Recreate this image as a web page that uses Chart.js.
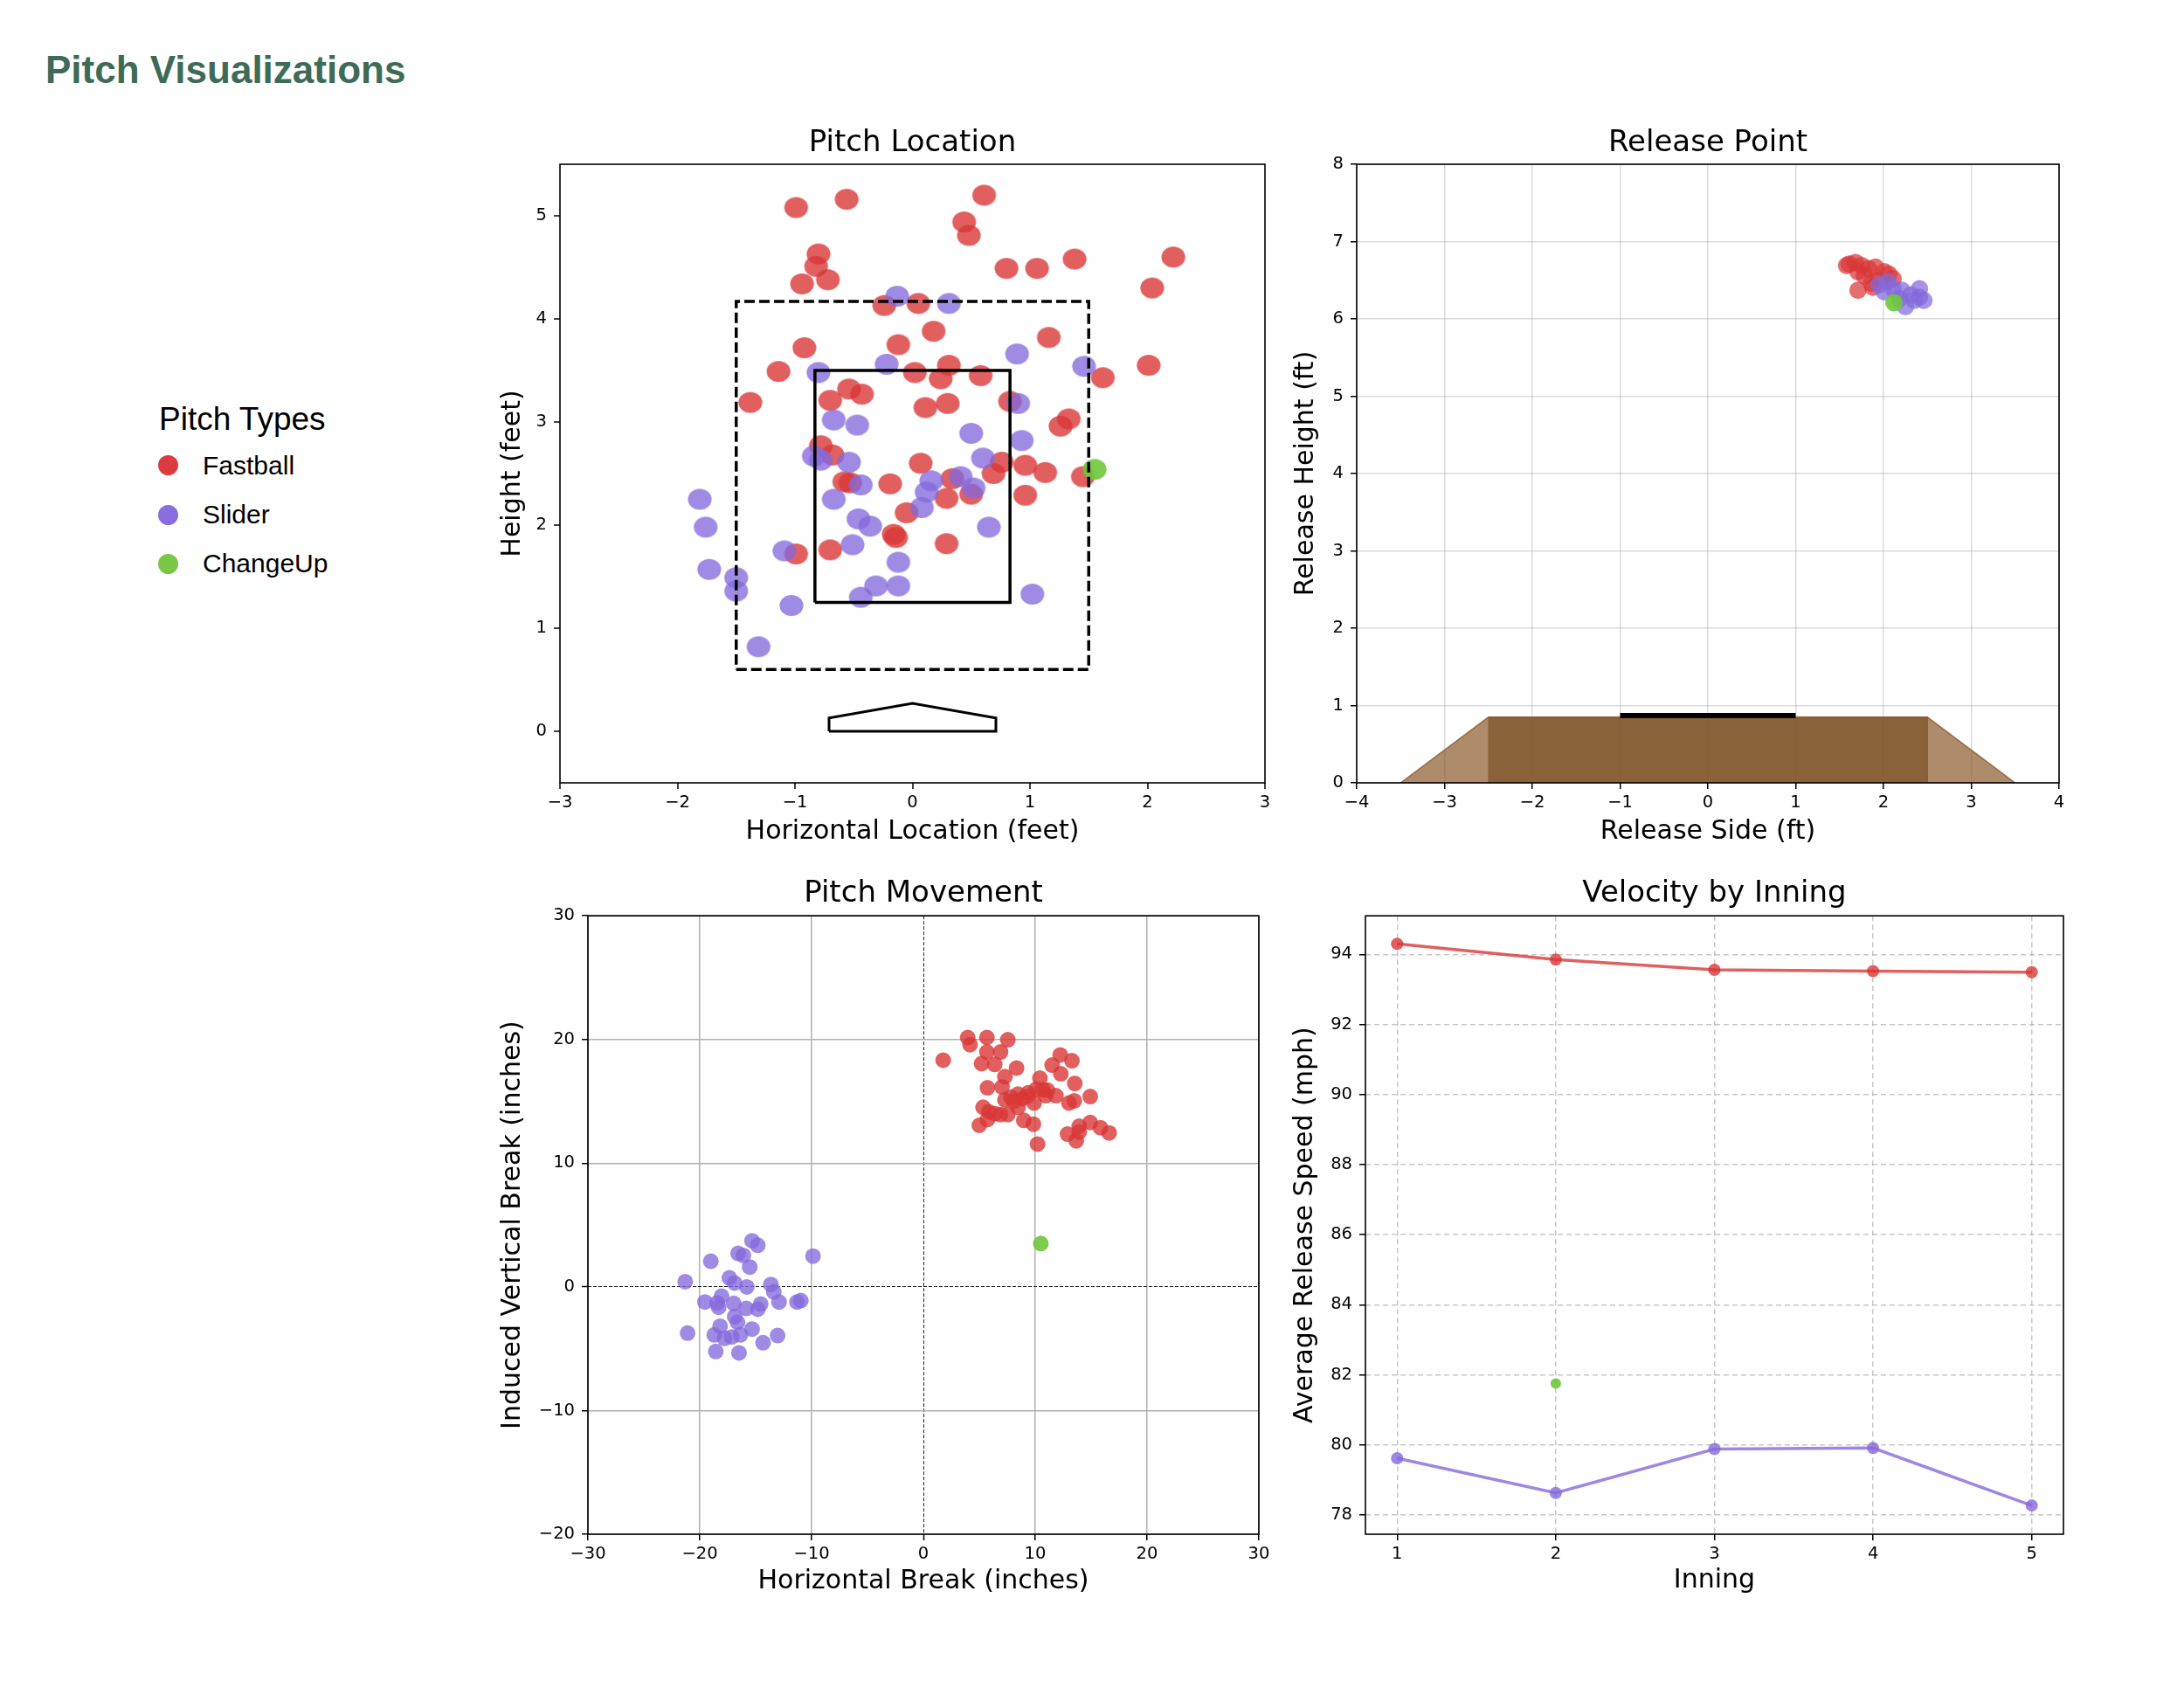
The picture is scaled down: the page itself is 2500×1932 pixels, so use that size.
<!DOCTYPE html>
<html>
<head>
<meta charset="utf-8">
<script src="https://cdn.jsdelivr.net/npm/chart.js@4.4.1/dist/chart.umd.min.js"></script>
<style>
  body { margin: 0; background: #fff; width: 2500px; height: 1932px; position: relative; overflow: hidden; }
  canvas { position: absolute; }
  .txt { position: absolute; font-family: "Liberation Sans", Arial, sans-serif; line-height: 1; white-space: nowrap; }
  #mainTitle { left: 52px; top: 58px; font-size: 44px; font-weight: bold; color: #3d6b57; }
  #legendTitle { left: 182px; top: 461px; font-size: 37px; color: #000; }
  .item { left: 232px; font-size: 30px; color: #000; }
  .dot { position: absolute; width: 23px; height: 23px; border-radius: 50%; left: 181px; }
</style>
</head>
<body>
<div id="mainTitle" class="txt">Pitch Visualizations</div>
<div id="legendTitle" class="txt">Pitch Types</div>
<div class="dot" style="top:521px;background:#dc3c40"></div>
<div class="txt item" style="top:518px">Fastball</div>
<div class="dot" style="top:578px;background:#8a6ee0"></div>
<div class="txt item" style="top:574px">Slider</div>
<div class="dot" style="top:634px;background:#78c846"></div>
<div class="txt item" style="top:630px">ChangeUp</div>

<canvas id="locChart" width="950" height="880" style="left:520px;top:120px"></canvas>
<canvas id="relChart" width="940" height="880" style="left:1440px;top:120px"></canvas>
<canvas id="mvChart" width="925" height="880" style="left:540px;top:980px"></canvas>
<canvas id="veloChart" width="950" height="880" style="left:1440px;top:980px"></canvas>

<script>
// pitch location (feet)
const locFbX = [-0.99,-0.56,0.61,0.44,0.48,-0.80,-0.82,-0.94,-0.72,0.80,1.06,1.38,2.22,2.04,-0.24,0.05,0.18,-0.12,-0.92,1.16,-1.14,-1.38,0.02,0.31,0.24,0.58,1.62,2.01,-0.54,-0.43,-0.70,0.11,0.30,0.83,1.33,1.26,-0.78,-0.68,0.07,0.76,0.96,0.69,1.13,1.45,-0.58,-0.53,-0.19,0.34,0.50,0.29,0.96,-0.05,-0.16,-0.14,-0.70,-0.99,0.29];
const locFbY = [5.08,5.16,5.20,4.94,4.81,4.63,4.51,4.34,4.38,4.49,4.49,4.58,4.60,4.30,4.13,4.15,3.88,3.75,3.72,3.82,3.49,3.19,3.48,3.55,3.42,3.45,3.43,3.55,3.32,3.27,3.21,3.14,3.18,3.20,3.03,2.96,2.77,2.68,2.60,2.61,2.58,2.50,2.51,2.47,2.42,2.41,2.40,2.45,2.30,2.26,2.29,2.12,1.91,1.88,1.76,1.72,1.82];
const locSlX = [-0.13,0.31,-0.22,-0.80,0.89,1.46,0.90,-0.67,-0.47,0.50,0.93,-0.84,-0.78,-0.54,0.60,-0.44,0.16,0.12,0.41,0.52,-0.67,0.08,-0.46,-0.36,0.65,-1.81,-1.76,-1.73,-1.50,-1.50,-1.09,-0.51,-0.12,-0.31,-0.12,-0.44,-1.03,1.02,-1.31];
const locSlY = [4.22,4.15,3.56,3.48,3.66,3.54,3.18,3.02,2.97,2.89,2.82,2.67,2.63,2.61,2.65,2.39,2.43,2.32,2.47,2.36,2.25,2.17,2.06,1.99,1.98,2.25,1.98,1.57,1.49,1.36,1.75,1.81,1.64,1.41,1.41,1.30,1.22,1.33,0.82];
const locChX = [1.55];
const locChY = [2.54];

// strike zone, shadow zone and plate outline
const zoneX = [-0.83, 0.83];
const zoneY = [1.25, 3.5];
const shadowX = [-1.5, 1.5];
const shadowY = [0.6, 4.17];
const plateX = [-0.71, 0.71, 0.71, 0, -0.71, -0.71];
const plateY = [0, 0, 0.13, 0.27, 0.13, 0];

// release point (ft)
const relFbX = [1.58,1.61,1.68,1.75,1.83,1.91,1.71,1.78,1.71,1.86,1.95,2.06,2.11,2.01,1.88];
const relFbY = [6.69,6.71,6.73,6.69,6.65,6.67,6.61,6.56,6.37,6.46,6.50,6.58,6.52,6.61,6.41];
const relSlX = [1.95,2.05,2.11,2.21,2.31,2.41,2.46,2.25,2.35,2.18,2.01,2.41];
const relSlY = [6.44,6.48,6.39,6.37,6.31,6.39,6.24,6.16,6.24,6.26,6.35,6.28];
const relChX = [2.12];
const relChY = [6.21];

// mound and rubber
const moundSlopeX = [-3.5, -2.5, 2.5, 3.5];
const moundSlopeY = [0, 0.85, 0.85, 0];
const moundTopX = [-2.5, -2.5, 2.5, 2.5];
const moundTopY = [0, 0.85, 0.85, 0];
const rubberX = [-1, 1];
const rubberY = [0.87, 0.87];

// pitch movement (inches)
const mvFbX = [1.77,3.96,5.68,7.55,4.17,5.68,6.90,5.21,6.38,8.33,7.29,5.73,7.03,8.46,7.29,8.07,8.85,9.38,10.42,10.68,10.94,11.85,9.90,12.24,13.28,11.51,12.29,13.54,14.92,13.02,13.49,5.34,5.86,6.90,7.55,5.00,5.73,8.98,9.84,10.21,12.89,13.93,14.92,15.83,16.61,13.67,13.93,7.81,8.46,9.30,10.10,11.10,6.40];
const mvFbY = [18.33,20.16,20.16,19.98,19.58,18.99,18.99,18.05,17.98,17.69,16.99,16.09,16.16,15.58,15.11,14.99,15.22,15.69,16.87,15.93,15.46,15.46,14.87,18.75,18.28,17.93,17.22,16.45,15.39,14.87,15.04,14.52,14.16,13.93,13.93,13.06,13.53,13.46,13.15,11.55,12.35,12.99,13.29,12.87,12.45,11.81,12.52,15.34,14.52,15.40,16.00,15.90,14.00];
const mvSlX = [-21.30,-19.01,-15.32,-14.81,-16.57,-16.10,-15.53,-9.87,-17.35,-16.88,-15.79,-13.64,-13.38,-19.53,-18.05,-18.44,-18.31,-16.96,-15.84,-14.55,-14.81,-12.91,-11.30,-10.96,-16.88,-16.62,-18.18,-15.32,-21.09,-18.70,-17.79,-17.14,-16.36,-13.04,-14.34,-18.57,-16.49];
const mvSlY = [0.42,2.07,3.72,3.36,2.71,2.54,1.60,2.49,0.73,0.31,0.00,0.19,-0.40,-1.22,-0.75,-1.29,-1.65,-1.34,-1.74,-1.39,-1.81,-1.22,-1.22,-1.11,-2.40,-2.87,-3.18,-3.41,-3.74,-3.88,-4.16,-4.05,-3.88,-3.93,-4.52,-5.22,-5.34];
const mvChX = [10.5];
const mvChY = [3.5];

// velocity by inning (mph)
const innings = [1, 2, 3, 4, 5];
const veloFb = [94.30, 93.85, 93.56, 93.52, 93.49];
const veloSl = [79.62, 78.63, 79.88, 79.91, 78.27];
const veloChInning = [2];
const veloCh = [81.75];

// tick labels
const locTicksX = [-3, -2, -1, 0, 1, 2, 3];
const locTicksY = [0, 1, 2, 3, 4, 5];
const relTicksX = [-4, -3, -2, -1, 0, 1, 2, 3, 4];
const relTicksY = [0, 1, 2, 3, 4, 5, 6, 7, 8];
const mvTicksX = [-30, -20, -10, 0, 10, 20, 30];
const mvTicksY = [-20, -10, 0, 10, 20, 30];
const veloTicksX = [1, 2, 3, 4, 5];
const veloTicksY = [78, 80, 82, 84, 86, 88, 90, 92, 94];

const red = 'rgba(217,55,55,0.8)';
const purple = 'rgba(132,105,220,0.78)';
const green = 'rgba(110,200,60,0.9)';

Chart.defaults.font.family = '"DejaVu Sans", sans-serif';
Chart.defaults.color = '#000';

function pts(xs, ys) {
    return xs.map((x, i) => ({ x: x, y: ys[i] }));
}

function boxPts(xs, ys) {
    return pts([xs[0], xs[1], xs[1], xs[0], xs[0]], [ys[0], ys[0], ys[1], ys[1], ys[0]]);
}

function ellipse(color, rx, ry) {
    const c = document.createElement('canvas');
    c.width = Math.ceil(rx * 2) + 2;
    c.height = Math.ceil(ry * 2) + 2;
    const g = c.getContext('2d');
    g.fillStyle = color;
    g.beginPath();
    g.ellipse(c.width / 2, c.height / 2, rx, ry, 0, 0, Math.PI * 2);
    g.fill();
    return c;
}

function fmt(v) {
    return String(v).replace('-', '\u2212');
}

function makeScale(o) {
    const g = o.grid || {};
    return {
        type: 'linear',
        min: o.min,
        max: o.max,
        afterBuildTicks: s => { s.ticks = o.ticks.map(v => ({ value: v })); },
        afterFit: s => { if (o.horizontal) s.height = o.size; else s.width = o.size; },
        ticks: {
            font: { size: 19.5 },
            color: '#000',
            padding: o.horizontal ? 4 : 8,
            maxRotation: 0,
            autoSkip: false,
            callback: v => fmt(v)
        },
        grid: {
            drawOnChartArea: !!o.grid,
            color: g.color || 'rgba(0,0,0,0)',
            lineWidth: g.width || 0,
            tickColor: '#000',
            tickLength: 7,
            tickWidth: 1.5
        },
        border: { display: false, dash: g.dash || [] },
        title: {
            display: true,
            text: o.title,
            font: { size: 30 },
            color: '#000',
            // bottom axes measure the gap from the canvas bottom, left axes from the canvas left
            padding: o.horizontal ? { top: 0, bottom: o.titlePad } : { top: o.titlePad, bottom: 0 }
        }
    };
}

// black box round the plot area, like matplotlib spines
const framePlugin = {
    id: 'frame',
    afterDraw(chart) {
        const { ctx, chartArea: a } = chart;
        ctx.save();
        ctx.strokeStyle = '#000';
        ctx.lineWidth = 1.6;
        ctx.strokeRect(a.left, a.top, a.right - a.left, a.bottom - a.top);
        ctx.restore();
    }
};

function baseOptions(title, titlePad, rightPad) {
    return {
        responsive: false,
        animation: false,
        events: [],
        layout: { padding: { right: rightPad } },
        plugins: {
            legend: { display: false },
            tooltip: { enabled: false },
            title: {
                display: true,
                fullSize: false,
                text: title,
                font: { size: 34, weight: 'normal', lineHeight: 1.2 },
                color: '#000',
                padding: titlePad
            }
        }
    };
}

function outline(data, width, dash, order) {
    return {
        data: data,
        showLine: true,
        borderColor: '#000',
        borderWidth: width,
        borderDash: dash,
        pointRadius: 0,
        tension: 0,
        fill: false,
        order: order
    };
}

// --- Pitch Location ---
const locOpts = baseOptions('Pitch Location', { top: 23.5, bottom: 3.7 }, 22);
locOpts.scales = {
    x: makeScale({ min: -3, max: 3, ticks: locTicksX, title: 'Horizontal Location (feet)', size: 104, titlePad: 30, horizontal: true }),
    y: makeScale({ min: -0.5, max: 5.5, ticks: locTicksY, title: 'Height (feet)', size: 121, titlePad: 49 })
};
new Chart(document.getElementById('locChart'), {
    type: 'scatter',
    data: {
        datasets: [
            outline(boxPts(zoneX, zoneY), 3.5, [], 1),
            outline(boxPts(shadowX, shadowY), 3.5, [12, 5], 1),
            outline(pts(plateX, plateY), 3, [], 1),
            { data: pts(locChX, locChY), pointStyle: ellipse(green, 13.6, 12), order: 2 },
            { data: pts(locSlX, locSlY), pointStyle: ellipse(purple, 13.6, 12), order: 3 },
            { data: pts(locFbX, locFbY), pointStyle: ellipse(red, 13.6, 12), order: 4 }
        ]
    },
    options: locOpts,
    plugins: [framePlugin]
});

// --- Release Point ---
const relOpts = baseOptions('Release Point', { top: 23.5, bottom: 3.7 }, 23);
const relGrid = { color: 'rgba(176,176,176,0.45)', width: 1.5 };
relOpts.scales = {
    x: makeScale({ min: -4, max: 4, ticks: relTicksX, title: 'Release Side (ft)', size: 104, titlePad: 30, horizontal: true, grid: relGrid }),
    y: makeScale({ min: 0, max: 8, ticks: relTicksY, title: 'Release Height (ft)', size: 113, titlePad: 37, grid: relGrid })
};
new Chart(document.getElementById('relChart'), {
    type: 'scatter',
    data: {
        datasets: [
            { data: pts(relChX, relChY), backgroundColor: green, pointRadius: 10, borderWidth: 0, order: 1 },
            { data: pts(relSlX, relSlY), backgroundColor: 'rgba(132,105,220,0.72)', pointRadius: 10, borderWidth: 0, order: 2 },
            { data: pts(relFbX, relFbY), backgroundColor: 'rgba(217,55,55,0.72)', pointRadius: 10, borderWidth: 0, order: 3 },
            { data: pts(rubberX, rubberY), showLine: true, borderColor: '#000', borderWidth: 6, pointRadius: 0, order: 4 },
            { data: pts(moundTopX, moundTopY), showLine: true, fill: 'origin', backgroundColor: 'rgba(131,88,46,0.82)', borderColor: 'rgba(131,88,46,0.6)', borderWidth: 1, pointRadius: 0, order: 5 },
            { data: pts(moundSlopeX, moundSlopeY), showLine: true, fill: 'origin', backgroundColor: 'rgba(139,90,43,0.7)', borderColor: 'rgba(139,90,43,0.8)', borderWidth: 1.5, pointRadius: 0, order: 6 }
        ]
    },
    options: relOpts,
    plugins: [framePlugin]
});

// --- Pitch Movement ---
const mvOpts = baseOptions('Pitch Movement', { top: 23, bottom: 4.4 }, 24);
const mvGrid = {
    color: c => (c.tick && c.tick.value === 0 ? '#222' : '#b0b0b0'),
    width: c => (c.tick && c.tick.value === 0 ? 1 : 1.5),
    dash: c => (c.tick && c.tick.value === 0 ? [4, 2] : [])
};
mvOpts.scales = {
    x: makeScale({ min: -30, max: 30, ticks: mvTicksX, title: 'Horizontal Break (inches)', size: 104, titlePad: 32, horizontal: true, grid: mvGrid }),
    y: makeScale({ min: -20, max: 30, ticks: mvTicksY, title: 'Induced Vertical Break (inches)', size: 133, titlePad: 29, grid: mvGrid })
};
new Chart(document.getElementById('mvChart'), {
    type: 'scatter',
    data: {
        datasets: [
            { data: pts(mvChX, mvChY), backgroundColor: green, pointRadius: 9, borderWidth: 0, order: 1 },
            { data: pts(mvSlX, mvSlY), backgroundColor: purple, pointRadius: 9, borderWidth: 0, order: 2 },
            { data: pts(mvFbX, mvFbY), backgroundColor: red, pointRadius: 9, borderWidth: 0, order: 3 }
        ]
    },
    options: mvOpts,
    plugins: [framePlugin]
});

// --- Velocity by Inning ---
const veloOpts = baseOptions('Velocity by Inning', { top: 23, bottom: 4.4 }, 28);
const veloGrid = { color: 'rgba(176,176,176,0.7)', width: 1.5, dash: [6, 4] };
veloOpts.scales = {
    x: makeScale({ min: 0.8, max: 5.2, ticks: veloTicksX, title: 'Inning', size: 104, titlePad: 33, horizontal: true, grid: veloGrid }),
    y: makeScale({ min: 77.45, max: 95.1, ticks: veloTicksY, title: 'Average Release Speed (mph)', size: 123, titlePad: 36, grid: veloGrid })
};
new Chart(document.getElementById('veloChart'), {
    type: 'scatter',
    data: {
        datasets: [
            { data: pts(innings, veloFb), showLine: true, borderColor: red, borderWidth: 3.5, backgroundColor: red, pointRadius: 7, pointBorderWidth: 0, order: 1 },
            { data: pts(innings, veloSl), showLine: true, borderColor: 'rgba(132,105,220,0.8)', borderWidth: 3.5, backgroundColor: 'rgba(132,105,220,0.8)', pointRadius: 7, pointBorderWidth: 0, order: 2 },
            { data: pts(veloChInning, veloCh), backgroundColor: green, pointRadius: 6, pointBorderWidth: 0, order: 3 }
        ]
    },
    options: veloOpts,
    plugins: [framePlugin]
});
</script>
</body>
</html>
